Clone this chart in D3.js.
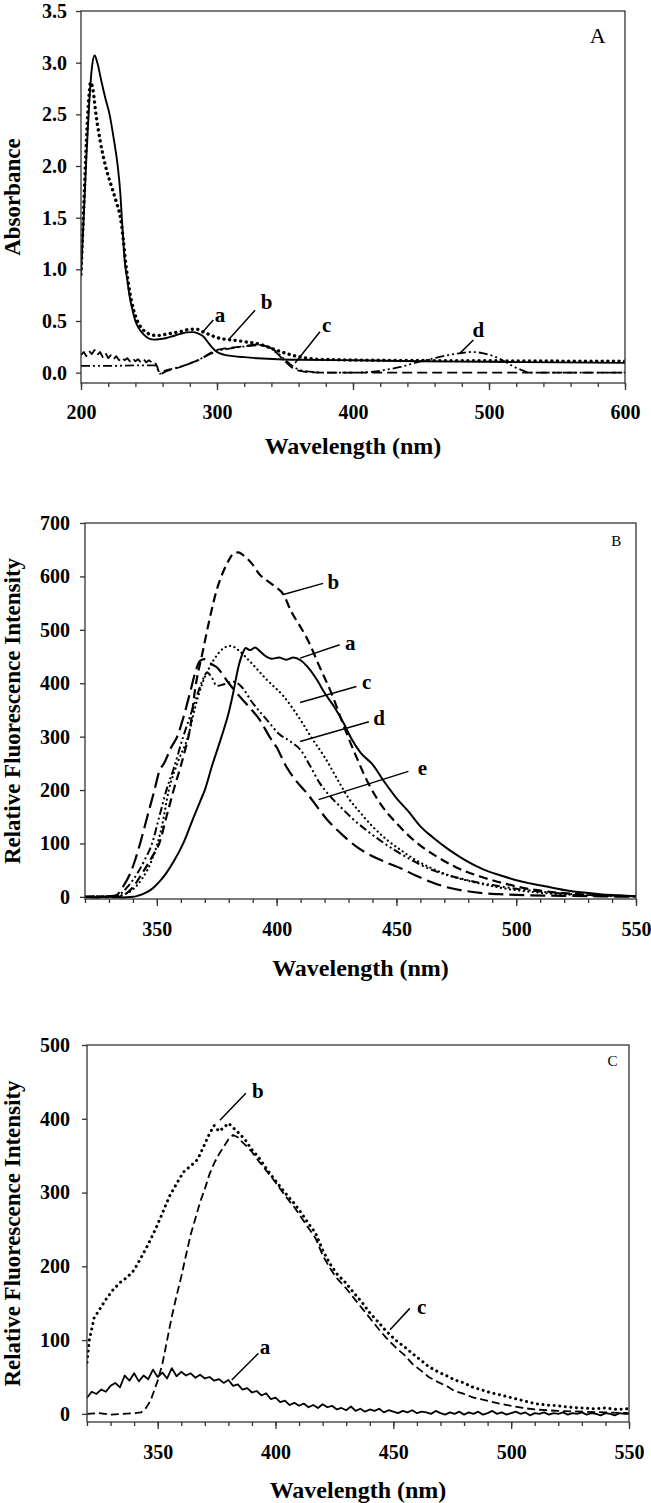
<!DOCTYPE html>
<html><head><meta charset="utf-8">
<script src="https://cdn.jsdelivr.net/npm/d3@7"></script>
<style>
body{margin:0;background:#fff;}
svg text{font-family:"Liberation Serif","Times New Roman",serif;fill:#000;}
</style></head><body>
<svg id="chart" width="651" height="1503"></svg>
<script>
// ---------------- DATA ----------------
// Panel A : absorbance spectra  [wavelength nm, absorbance]
const A_xTicks = [200, 300, 400, 500, 600];
const A_yTicks = [0, 0.5, 1.0, 1.5, 2.0, 2.5, 3.0, 3.5];
const A_a = [[200,0.95],[202,1.5],[204,2.1],[206,2.6],[208,2.95],[210,3.07],[212,3.0],[215,2.82],[218,2.65],[221,2.5],[224,2.27],[227,2.0],[229,1.72],[230,1.5],[231,1.3],[232,1.1],[234,0.9],[236,0.72],[238,0.6],[240,0.5],[243,0.42],[246,0.37],[250,0.33],[254,0.32],[258,0.325],[263,0.335],[268,0.355],[273,0.375],[278,0.39],[282,0.392],[286,0.38],[290,0.35],[293,0.3],[296,0.25],[300,0.2],[305,0.175],[312,0.16],[320,0.15],[330,0.14],[345,0.13],[360,0.125],[400,0.12],[450,0.11],[500,0.105],[550,0.1],[600,0.095]];
const A_b = [[200,0.95],[202,1.6],[204,2.25],[206,2.7],[207,2.81],[209,2.72],[211,2.5],[214,2.25],[218,2.0],[222,1.82],[226,1.65],[229,1.5],[231,1.3],[233,1.05],[235,0.85],[237,0.7],[240,0.55],[244,0.44],[248,0.39],[252,0.365],[256,0.36],[262,0.37],[268,0.385],[274,0.4],[280,0.42],[285,0.42],[290,0.395],[295,0.365],[300,0.34],[305,0.325],[312,0.315],[320,0.3],[328,0.285],[335,0.26],[342,0.225],[350,0.19],[358,0.16],[366,0.14],[375,0.13],[390,0.125],[420,0.12],[500,0.115],[600,0.11]];
const A_c = [[200,0.17],[202,0.2],[204,0.16],[206,0.21],[208,0.18],[210,0.22],[212,0.17],[214,0.2],[216,0.15],[218,0.19],[220,0.14],[222,0.17],[224,0.13],[226,0.16],[228,0.12],[230,0.15],[232,0.12],[234,0.14],[236,0.11],[238,0.14],[240,0.11],[242,0.13],[244,0.1],[246,0.13],[248,0.1],[250,0.12],[252,0.1],[254,0.11],[256,0.06],[258,-0.02],[262,0.01],[266,0.03],[272,0.05],[280,0.09],[288,0.13],[295,0.19],[300,0.22],[308,0.24],[316,0.25],[325,0.26],[332,0.27],[338,0.25],[344,0.19],[350,0.11],[355,0.05],[360,0.02],[366,0.005],[380,0],[600,0]];
const A_d = [[200,0.065],[220,0.065],[240,0.07],[254,0.07],[256,0.04],[258,-0.01],[262,0.02],[268,0.04],[276,0.07],[284,0.11],[292,0.16],[300,0.21],[308,0.23],[318,0.25],[328,0.27],[335,0.26],[342,0.22],[348,0.15],[354,0.08],[360,0.03],[368,0.01],[380,0.0],[400,0.0],[415,0.01],[425,0.03],[435,0.055],[447,0.1],[460,0.14],[470,0.17],[480,0.19],[487,0.2],[495,0.19],[503,0.16],[510,0.12],[518,0.06],[525,0.02],[530,0.0],[600,0.0]];

// Panel B : fluorescence spectra [wavelength nm, intensity]
const B_xTicks = [350, 400, 450, 500, 550];
const B_yTicks = [0, 100, 200, 300, 400, 500, 600, 700];
const B_a = [[320,0],[325,-1],[330,1],[335,-1],[340,0],[342,2],[345,7],[348,15],[351,28],[354,45],[357,66],[361,100],[365,145],[368,178],[370,200],[373,245],[377,300],[380,345],[382,385],[384,430],[386,458],[387,466],[389,462],[391,467],[393,460],[395,452],[398,446],[401,448],[404,444],[407,448],[410,443],[413,430],[417,405],[420,382],[424,356],[428,325],[431,298],[435,270],[440,248],[445,215],[450,185],[455,160],[460,132],[465,112],[472,88],[479,68],[486,52],[495,38],[500,31],[506,25],[512,20],[520,13],[528,8],[535,5],[542,3],[550,1]];
const B_b = [[320,0],[325,1],[330,-1],[334,0],[336,3],[340,18],[344,45],[348,75],[351,100],[354,150],[357,200],[361,262],[364,320],[366,390],[369,456],[372,520],[375,575],[378,612],[380,630],[382,643],[384,645],[386,640],[388,632],[390,622],[393,603],[396,592],[399,582],[403,565],[406,535],[410,505],[413,481],[418,430],[423,380],[428,320],[433,265],[438,215],[444,170],[450,138],[458,103],[467,75],[475,55],[485,38],[495,25],[505,15],[515,9],[530,4],[550,1]];
const B_c = [[320,0],[326,1],[332,0],[336,4],[340,14],[344,35],[348,70],[352,130],[355,200],[359,255],[363,300],[366,355],[369,400],[372,430],[375,452],[378,466],[381,470],[384,462],[389,440],[396,406],[403,375],[410,331],[415,295],[420,262],[426,215],[430,185],[435,157],[440,132],[446,107],[452,87],[458,69],[465,53],[472,40],[480,30],[488,22],[496,15],[505,10],[515,6],[530,3],[550,1]];
const B_d = [[320,0],[326,1],[332,0],[334,3],[338,20],[342,45],[345,70],[348,100],[351,150],[354,200],[357,240],[361,300],[364,340],[367,380],[369,405],[371,420],[373,410],[375,395],[378,398],[382,403],[385,395],[390,363],[396,331],[401,305],[406,290],[410,275],[414,245],[418,213],[422,190],[427,167],[432,145],[438,123],[445,100],[452,80],[458,65],[465,50],[472,40],[479,32],[486,25],[493,20],[500,15],[510,10],[520,6],[535,3],[550,1]];
const B_e = [[320,0],[326,-1],[330,1],[333,3],[336,20],[339,45],[341,70],[343,100],[346,150],[349,200],[351,235],[353,250],[356,280],[358.5,300],[361,335],[364,385],[366,420],[368,442],[370,445],[372,438],[375,430],[380,400],[385,373],[390,348],[393,331],[397,300],[400,280],[404,244],[408,218],[413,192],[417,168],[421,145],[427,118],[433,95],[440,76],[446,64],[452,53],[458,40],[465,27],[472,17],[479,11],[486,7],[493,5],[505,3],[520,2],[550,0]];

// Panel C : fluorescence spectra [wavelength nm, intensity]
const C_xTicks = [350, 400, 450, 500, 550];
const C_yTicks = [0, 100, 200, 300, 400, 500];
const C_a = [[320,22],[322,30],[324,27],[326,33],[328,30],[330,38],[332,42],[334,36],[336,52],[338,45],[340,55],[342,44],[344,52],[346,47],[348,60],[350,50],[352,56],[354,48],[356,62],[358,51],[360,57],[362,52],[364,55],[366,49],[368,53],[370,48],[372,50],[374,45],[376,47],[378,42],[380,46],[382,38],[384,40],[386,33],[388,35],[390,29],[392,31],[394,25],[396,28],[398,20],[400,22],[402,16],[404,18],[406,12],[408,15],[410,11],[412,14],[414,9],[416,12],[418,8],[420,13],[422,9],[424,11],[426,6],[428,8],[430,5],[432,10],[434,4],[436,7],[438,3],[440,6],[442,4],[444,7],[446,2],[448,5],[450,3],[452,1],[454,4],[456,2],[458,5],[460,1],[462,3],[464,2],[466,0],[468,4],[470,1],[472,-1],[474,2],[476,0],[478,3],[480,-1],[482,2],[484,0],[486,3],[488,-1],[490,1],[492,4],[494,0],[496,2],[498,-1],[500,1],[502,3],[504,0],[506,2],[508,-2],[510,1],[512,0],[514,2],[516,-1],[518,1],[520,0],[522,2],[524,-1],[526,1],[528,0],[530,2],[532,-1],[534,1],[536,0],[538,-2],[540,1],[542,0],[544,-2],[546,1],[548,0],[550,0]];
const C_b = [[320,70],[321,100],[323,130],[326,145],[328,155],[331,168],[334,178],[337,185],[340,195],[343,212],[346,230],[349,250],[352,272],[355,295],[358,312],[361,328],[364,336],[367,345],[370,366],[372,380],[374,391],[376,383],[378,388],[380,394],[382,388],[384,382],[387,372],[390,358],[393,347],[396,333],[399,320],[402,308],[405,296],[408,285],[411,272],[414,258],[417,245],[420,222],[423,204],[426,190],[430,177],[433,165],[437,150],[440,137],[444,123],[447,112],[451,100],[455,90],[458,82],[462,72],[465,64],[469,57],[473,51],[476,46],[480,42],[483,37],[487,33],[491,29],[495,26],[500,22],[505,18],[510,14],[515,12],[520,11],[525,9],[530,8],[535,7],[540,8],[545,6],[550,7]];
const C_c = [[320,0],[325,1],[330,-1],[335,0],[340,1],[343,2],[345,8],[347,18],[350,45],[352,68],[354,100],[356,132],[358,160],[360,186],[362,215],[364,243],[366,265],[368,287],[370,305],[372,325],[374,340],[376,352],[378,362],[380,372],[382,378],[384,375],[386,368],[388,362],[390,355],[393,342],[396,330],[399,318],[402,305],[405,292],[408,280],[411,266],[414,252],[417,238],[420,215],[423,198],[426,184],[430,170],[433,158],[437,142],[440,130],[444,114],[447,103],[451,90],[455,79],[458,68],[462,58],[465,50],[469,43],[473,37],[476,31],[480,27],[484,22],[487,20],[491,17],[495,14],[500,11],[505,8],[510,6],[515,5],[520,4],[530,3],[540,2],[550,1]];

// annotation letters: text, label point, pointer start, pointer end (data units)
const A_notes = [["a",[302.2,0.557],[297.3,0.509],[288.7,0.381]],["b",[336.5,0.684],[328,0.605],[308.3,0.317]],["c",[380.7,0.46],[375.7,0.396],[357.4,0.093]],["d",[492.1,0.413],[488.5,0.317],[478.7,0.189]]];
const B_notes = [["b",[423.7,590],[419.4,587],[402.8,566]],["a",[430.7,475],[426.3,472],[409.8,447]],["c",[437.6,403],[433.3,394],[409.8,364]],["d",[442.8,335],[438.5,328],[409.8,291]],["e",[460.8,241],[455,235],[417.5,182]]];
const C_notes = [["b",[392.5,437],[387.4,434.5],[376.4,398]],["a",[395.5,91],[392.7,82],[381.4,46]],["c",[462,145],[457,143],[448.6,114]]];

// ---------------- DRAW ----------------
const svg = d3.select("#chart");
const SERIF = '"Liberation Serif","Times New Roman",serif';

function panel(cfg){
  const x = d3.scaleLinear().domain(cfg.xDomain).range([cfg.left, cfg.right]);
  const y = d3.scaleLinear().domain(cfg.yDomain).range([cfg.bottom, cfg.top]);
  const g = svg.append("g");
  const clipId = "clip" + cfg.id;
  svg.append("clipPath").attr("id", clipId).append("rect")
    .attr("x", cfg.left).attr("y", cfg.top - 2)
    .attr("width", cfg.right - cfg.left).attr("height", cfg.bottom - cfg.top + 2);

  cfg.series.forEach(s => {
    const line = d3.line().x(d => x(d[0])).y(d => y(d[1])).curve(s.curve || d3.curveMonotoneX);
    g.append("path").attr("d", line(s.data))
      .attr("fill", "none").attr("stroke", "#000")
      .attr("stroke-width", s.w).attr("stroke-dasharray", s.dash || null)
      .attr("stroke-linecap", s.cap || "butt").attr("stroke-linejoin", "round")
      .attr("clip-path", `url(#${clipId})`);
  });

  // frame
  g.append("rect").attr("x", cfg.left).attr("y", cfg.top)
    .attr("width", cfg.right - cfg.left).attr("height", cfg.bottom - cfg.top)
    .attr("fill", "none").attr("stroke", "#333").attr("stroke-width", 1.3);

  // minor x ticks
  const minor = d3.range(cfg.xDomain[0], cfg.xDomain[1] + 0.001, cfg.minorStep);
  const xMinor = g.append("g").attr("transform", `translate(0,${cfg.bottom})`)
    .call(d3.axisBottom(x).tickValues(minor).tickSize(4).tickFormat(""));
  xMinor.select(".domain").remove();

  const xAxis = g.append("g").attr("transform", `translate(0,${cfg.bottom})`)
    .call(d3.axisBottom(x).tickValues(cfg.xTicks).tickSize(7).tickPadding(cfg.xPad).tickFormat(d3.format("d")));
  xAxis.select(".domain").remove();

  const yAxis = g.append("g").attr("transform", `translate(${cfg.left},0)`)
    .call(d3.axisLeft(y).tickValues(cfg.yTicks).tickSize(5).tickPadding(cfg.yPad).tickFormat(cfg.yFmt));
  yAxis.select(".domain").remove();

  g.selectAll(".tick line").attr("stroke", "#333").attr("stroke-width", 1.3);
  g.selectAll(".tick text").attr("font-family", SERIF).attr("font-weight", "bold")
    .attr("font-size", 20).attr("fill", "#000");

  // axis titles
  g.append("text").attr("x", (cfg.left + cfg.right) / 2).attr("y", cfg.xTitleY)
    .attr("text-anchor", "middle").attr("font-weight", "bold").attr("font-size", 24)
    .text("Wavelength (nm)");
  g.append("text").attr("transform", `translate(20,${(cfg.top + cfg.bottom) / 2}) rotate(-90)`)
    .attr("text-anchor", "middle").attr("font-weight", "bold").attr("font-size", 23)
    .text(cfg.yTitle);

  // panel letter
  g.append("text").attr("x", x(cfg.letterAt[0])).attr("y", y(cfg.letterAt[1]))
    .attr("text-anchor", "middle").attr("dominant-baseline", "central")
    .attr("font-size", cfg.letterSize).text(cfg.letter);

  // annotations
  cfg.notes.forEach(n => {
    g.append("line").attr("x1", x(n[2][0])).attr("y1", y(n[2][1]))
      .attr("x2", x(n[3][0])).attr("y2", y(n[3][1]))
      .attr("stroke", "#000").attr("stroke-width", 1.5);
    g.append("text").attr("x", x(n[1][0])).attr("y", y(n[1][1]))
      .attr("text-anchor", "middle").attr("dominant-baseline", "central")
      .attr("font-weight", "bold").attr("font-size", 21).text(n[0]);
  });
}

panel({
  id: "A", left: 81, right: 625, top: 11, bottom: 383,
  xDomain: [200, 600], yDomain: [-0.1, 3.5], minorStep: 20,
  xTicks: A_xTicks, yTicks: A_yTicks, yFmt: d3.format(".1f"),
  xPad: 15, yPad: 9, xTitleY: 454, yTitle: "Absorbance",
  letter: "A", letterAt: [580, 3.26], letterSize: 22,
  notes: A_notes,
  series: [
    {data: A_d, w: 1.8, dash: "9,3,2,3,2,3"},
    {data: A_c, w: 1.8, dash: "10,5", curve: d3.curveLinear},
    {data: A_a, w: 1.9},
    {data: A_b, w: 3.4, dash: "0.1,5.5", cap: "round"}
  ]
});

panel({
  id: "B", left: 85, right: 636, top: 523, bottom: 899,
  xDomain: [320, 550], yDomain: [-4, 700], minorStep: 10,
  xTicks: B_xTicks, yTicks: B_yTicks, yFmt: d3.format("d"),
  xPad: 16, yPad: 10, xTitleY: 976, yTitle: "Relative Fluorescence Intensity",
  letter: "B", letterAt: [541.8, 667], letterSize: 15,
  notes: B_notes,
  series: [
    {data: B_e, w: 2.2, dash: "15,6"},
    {data: B_d, w: 2, dash: "8,3,2,3,2,3"},
    {data: B_c, w: 2.2, dash: "0.1,4.5", cap: "round"},
    {data: B_b, w: 2.2, dash: "9,5"},
    {data: B_a, w: 2}
  ]
});

panel({
  id: "C", left: 87, right: 629, top: 1045, bottom: 1422,
  xDomain: [320, 550], yDomain: [-11, 500], minorStep: 10,
  xTicks: C_xTicks, yTicks: C_yTicks, yFmt: d3.format("d"),
  xPad: 16, yPad: 12, xTitleY: 1498, yTitle: "Relative Fluorescence Intensity",
  letter: "C", letterAt: [543, 478], letterSize: 15,
  notes: C_notes,
  series: [
    {data: C_c, w: 1.8, dash: "8,4", curve: d3.curveLinear},
    {data: C_b, w: 3, dash: "0.1,5.5", cap: "round", curve: d3.curveLinear},
    {data: C_a, w: 1.8, curve: d3.curveLinear}
  ]
});
</script>
</body></html>
